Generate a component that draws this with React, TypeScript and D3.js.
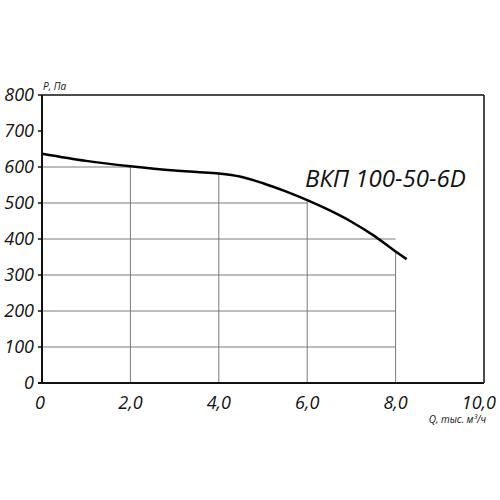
import * as d3 from "d3";
import React from "react";

// performance curve: Q (thousand m3/h) vs P (Pa)
const flowQ = [0, 1, 2, 3, 3.5, 4, 4.5, 5, 5.5, 6, 6.5, 7, 7.5, 8, 8.25];
const pressureP = [637, 617, 602, 590, 586, 582, 573, 555, 533, 508, 480, 448, 410, 365, 344];

const xTicks = [0, 2, 4, 6, 8, 10];
const yTicks = [0, 100, 200, 300, 400, 500, 600, 700, 800];

// grid lines only fill the area under the curve
const hGridValues = [100, 200, 300, 400, 500, 600];
const hGridEnds = [8, 8, 8, 8, 6, 2];
const vGridValues = [2, 4, 6, 8];
const vGridTops = [600, 582, 508, 365];

const modelName = "ВКП 100-50-6D";

const font = "'Open Sans', 'DejaVu Sans', sans-serif";

export default function App() {
  const width = 500;
  const height = 500;
  const margin = { top: 95, right: 16, bottom: 117, left: 42 };

  const x = d3.scaleLinear().domain([0, 10]).range([margin.left, width - margin.right]);
  const y = d3.scaleLinear().domain([0, 800]).range([height - margin.bottom, margin.top]);

  const line = d3
    .line<number>()
    .x((_, i) => x(flowQ[i]))
    .y((d) => y(d))
    .curve(d3.curveCatmullRom.alpha(0.5));

  const fmtX = (v: number) => (v === 0 ? "0" : v.toFixed(1).replace(".", ","));

  return (
    <svg
      width={width}
      height={height}
      style={{ position: "absolute", left: 0, top: 0, background: "#fff" }}
    >
      {/* grid */}
      <g stroke="#7a7a7a" strokeWidth={1}>
        {hGridValues.map((v, i) => (
          <line key={"h" + v} x1={x(0)} x2={x(hGridEnds[i])} y1={y(v)} y2={y(v)} />
        ))}
        {vGridValues.map((v, i) => (
          <line key={"v" + v} x1={x(v)} x2={x(v)} y1={y(0)} y2={y(vGridTops[i])} />
        ))}
      </g>

      {/* frame */}
      <g stroke="#111" fill="none">
        <line x1={x(0)} x2={x(10)} y1={y(800)} y2={y(800)} strokeWidth={1.5} />
        <line x1={x(10)} x2={x(10)} y1={y(800)} y2={y(0)} strokeWidth={1.5} />
        <line x1={x(0)} x2={x(0)} y1={y(800)} y2={y(0)} strokeWidth={2} />
        <line x1={x(0) - 4} x2={x(10)} y1={y(0)} y2={y(0)} strokeWidth={2} />
        {yTicks.map((v) => (
          <line key={v} x1={x(0) - 4} x2={x(0)} y1={y(v)} y2={y(v)} strokeWidth={1.5} />
        ))}
      </g>

      {/* curve */}
      <path d={line(pressureP) || ""} fill="none" stroke="#000" strokeWidth={2.5} />

      {/* tick labels */}
      <g fontFamily={font} fontStyle="italic" fontSize={18} fill="#111">
        {yTicks.map((v) => (
          <text key={v} x={x(0) - 8} y={y(v)} dy="0.36em" textAnchor="end">
            {v}
          </text>
        ))}
        {xTicks.map((v) => (
          <text
            key={v}
            x={x(v)}
            y={y(0) + 26}
            textAnchor={v === 10 ? "end" : "middle"}
            dx={v === 10 ? 12 : v === 0 ? -2 : 0}
          >
            {fmtX(v)}
          </text>
        ))}
      </g>

      {/* axis titles */}
      <text x={x(0) + 1} y={y(800) - 5} fontFamily={font} fontStyle="italic" fontSize={10} fill="#111">
        P, Па
      </text>
      <text
        x={x(10) + 2}
        y={y(0) + 40}
        textAnchor="end"
        fontFamily={font}
        fontStyle="italic"
        fontSize={10}
        fill="#111"
      >
        Q, тыс. м³/ч
      </text>

      {/* model label */}
      <text x={305} y={187} fontFamily={font} fontStyle="italic" fontSize={24} fill="#111">
        {modelName}
      </text>
    </svg>
  );
}
